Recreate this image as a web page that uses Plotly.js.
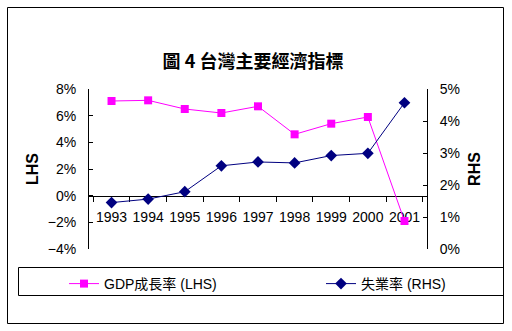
<!DOCTYPE html>
<html>
<head>
<meta charset="utf-8">
<script src="https://cdn.plot.ly/plotly-3.0.1.min.js"></script>
<style>html,body{margin:0;padding:0;background:#fff;}#chart{width:512px;height:331px;}</style>
</head>
<body>
<div id="chart"></div>
<script>
var years = ['1993','1994','1995','1996','1997','1998','1999','2000','2001'];
var gdpGrowth = [7.1, 7.15, 6.5, 6.2, 6.7, 4.6, 5.4, 5.9, -1.9];
var unemployment = [1.45, 1.56, 1.79, 2.60, 2.72, 2.69, 2.92, 2.99, 4.57];
var gdpName = 'GDP成長率 (LHS)';
var unempName = '失業率 (RHS)';
var titleText = '圖 4 台灣主要經濟指標';

var FONT = 'Arial, "Liberation Sans", "Noto Sans CJK TC", sans-serif';
var CJK = '"Noto Sans CJK TC", Arial, sans-serif';

var traces = [
  {x: years, y: gdpGrowth, name: gdpName, type: 'scatter', mode: 'lines+markers',
   line: {color: '#FF00FF', width: 1}, marker: {symbol: 'square', size: 8, color: '#FF00FF'},
   yaxis: 'y', cliponaxis: false, legend: 'legend'},
  {x: years, y: unemployment, name: unempName, type: 'scatter', mode: 'lines+markers',
   line: {color: '#000080', width: 1}, marker: {symbol: 'diamond', size: 9, color: '#000080'},
   yaxis: 'y2', cliponaxis: false, legend: 'legend2'}
];

var L = 89, R = 427, T = 89, B = 249;
function px(x){ return (x - L) / (R - L); }
function py(y){ return (B - y) / (B - T); }

var legendBase = {orientation: 'h', xanchor: 'left', yanchor: 'top',
  bgcolor: 'rgba(0,0,0,0)', borderwidth: 0, itemwidth: 30,
  font: {family: FONT, size: 14}};

var layout = {
  width: 512, height: 331,
  margin: {l: L, r: 512 - R, t: T, b: 331 - B, pad: 0},
  paper_bgcolor: '#fff', plot_bgcolor: '#fff',
  font: {family: FONT, size: 13, color: '#000'},
  showlegend: true,
  title: {text: titleText, font: {family: CJK, size: 18, weight: 'bold', color: '#000'},
          x: 253/512, xanchor: 'center', xref: 'container', y: 1 - 62/331, yanchor: 'middle', yref: 'container'},
  xaxis: {type: 'category', anchor: 'free', position: 4/12,
          showline: true, linecolor: '#000', linewidth: 1, mirror: false,
          ticks: 'outside', tickson: 'boundaries', ticklen: 5, tickcolor: '#000',
          showgrid: false, zeroline: false, layer: 'below traces',
          tickangle: 0, ticklabelstandoff: 9,
          tickfont: {family: FONT, size: 14}, fixedrange: true},
  yaxis: {range: [-4, 8], dtick: 2, tick0: 0, ticksuffix: '%',
          showline: true, linecolor: '#000', linewidth: 1, ticks: 'inside', ticklen: 4, tickcolor: '#000',
          showgrid: false, zeroline: false, tickfont: {family: FONT, size: 14}, ticklabelstandoff: 9,
          title: {text: 'LHS', font: {family: FONT, size: 16, weight: 'bold'}, standoff: 5}},
  yaxis2: {range: [0, 5], dtick: 1, tick0: 0, ticksuffix: '%', overlaying: 'y', side: 'right',
           showline: true, linecolor: '#000', linewidth: 1, ticks: 'inside', ticklen: 4, tickcolor: '#000',
           showgrid: false, zeroline: false, tickfont: {family: FONT, size: 14}, ticklabelstandoff: 9,
           title: {text: 'RHS', font: {family: FONT, size: 16, weight: 'bold'}, standoff: 9}},
  legend: Object.assign({}, legendBase, {x: px(64), y: py(268)}),
  legend2: Object.assign({}, legendBase, {x: px(321), y: py(268)}),
  shapes: [
    {type: 'rect', xref: 'paper', yref: 'paper', x0: px(7.5), x1: px(503.5), y0: py(7.5), y1: py(323.5),
     line: {color: '#000', width: 1}, fillcolor: 'rgba(0,0,0,0)', layer: 'below'},
    {type: 'rect', xref: 'paper', yref: 'paper', x0: px(18.5), x1: px(503.5), y0: py(267.5), y1: py(295.5),
     line: {color: '#000', width: 1}, fillcolor: 'rgba(0,0,0,0)', layer: 'below'}
  ]
};

Plotly.newPlot('chart', traces, layout, {displayModeBar: false, staticPlot: true});
</script>
</body>
</html>
